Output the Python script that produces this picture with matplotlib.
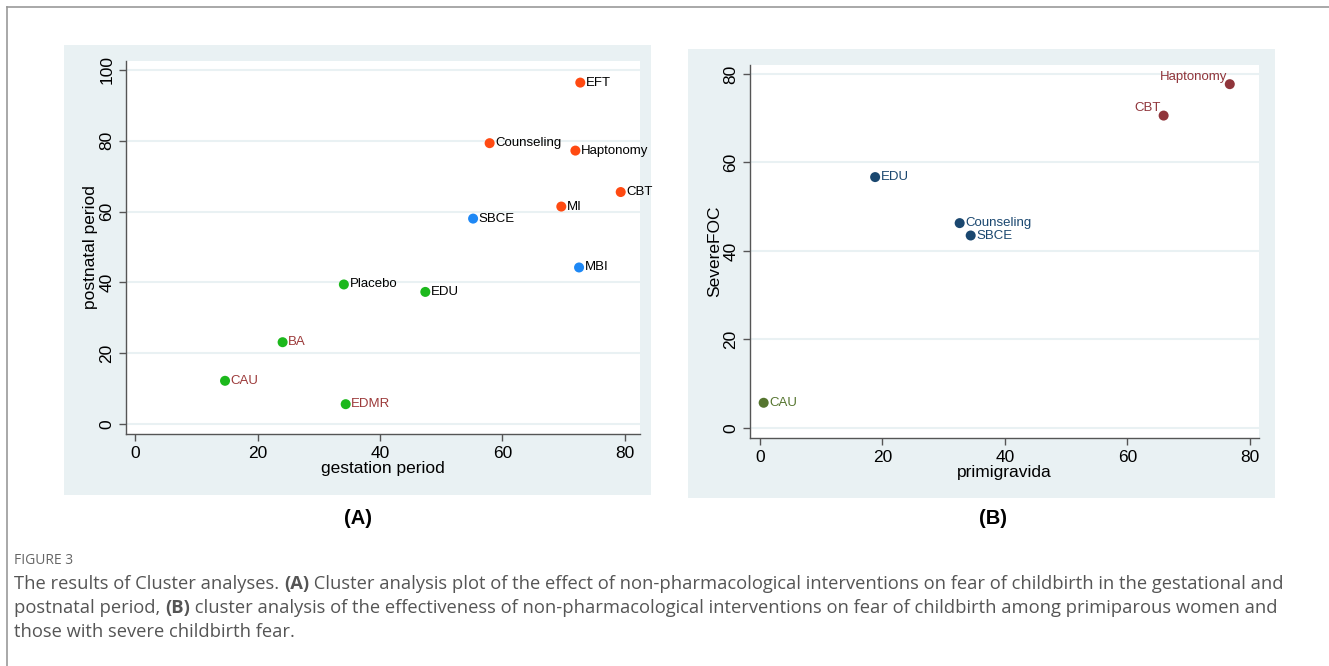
import matplotlib.pyplot as plt
from matplotlib.lines import Line2D
from matplotlib.patches import Rectangle

plt.rcParams["font.family"] = ["Liberation Sans", "DejaVu Sans"]

# (A) gestation vs postnatal period
a_names = ["EFT", "Counseling", "Haptonomy", "CBT", "MI", "SBCE", "MBI",
           "Placebo", "EDU", "BA", "CAU", "EDMR"]
a_gestation = [72.7, 57.9, 71.9, 79.3, 69.6, 55.2, 72.5, 34.1, 47.4, 24.1, 14.7, 34.4]
a_postnatal = [96.4, 79.3, 77.2, 65.5, 61.4, 58.0, 44.2, 39.4, 37.3, 23.1, 12.2, 5.6]
a_cluster = [1, 1, 1, 1, 1, 2, 2, 3, 3, 3, 3, 3]
a_maroon_labels = ["BA", "CAU", "EDMR"]

# (B) primigravida vs severe FOC
b_names = ["Haptonomy", "CBT", "EDU", "Counseling", "SBCE", "CAU"]
b_primigravida = [76.7, 65.9, 18.8, 32.6, 34.4, 0.6]
b_severe = [77.7, 70.6, 56.7, 46.3, 43.5, 5.7]
b_cluster = [1, 1, 2, 2, 2, 3]

a_colors = {1: "#ff4a12", 2: "#1e88f5", 3: "#1cb81c"}
b_colors = {1: "#90353b", 2: "#1a476f", 3: "#55752f"}
maroon = "#9c3a3a"
region_bg = "#e9f1f3"

W, H = 1329, 666
fig = plt.figure(figsize=(W / 100, H / 100), dpi=100)
fig.patch.set_facecolor("white")


def px_rect(left, top, right, bottom):
    return [left / W, 1 - bottom / H, (right - left) / W, (bottom - top) / H]


# page frame
fig.add_artist(Line2D([7 / W, 1], [1 - 7 / H, 1 - 7 / H], color="#999999", lw=1.2))
fig.add_artist(Line2D([7 / W, 7 / W], [0, 1 - 7 / H], color="#999999", lw=1.2))

# graph region backgrounds
for l, t, r, b in [(64, 45, 651, 495), (688, 49, 1275, 498)]:
    x0, y0, w, h = px_rect(l, t, r, b)
    fig.add_artist(Rectangle((x0, y0), w, h, transform=fig.transFigure,
                             facecolor=region_bg, edgecolor="none", zorder=0))


def style_axes(ax, xlabel, ylabel):
    ax.set_facecolor("white")
    for s in ["top", "right"]:
        ax.spines[s].set_visible(False)
    for s in ["left", "bottom"]:
        ax.spines[s].set_color("#555555")
        ax.spines[s].set_linewidth(1.0)
    ax.tick_params(axis="both", colors="#555555", length=5, width=1,
                   labelsize=12.5, labelcolor="black")
    for lab in ax.get_yticklabels():
        lab.set_rotation(90)
        lab.set_va("center")
    ax.yaxis.grid(True, color=region_bg, lw=1.5)
    ax.set_axisbelow(True)
    ax.set_xlabel(xlabel, fontsize=12.5, labelpad=0)
    ax.set_ylabel(ylabel, fontsize=12.5, labelpad=1)


# panel A
ax1 = fig.add_axes(px_rect(126, 61, 640, 434))
ax1.set_xlim(-1.47, 82.45)
ax1.set_ylim(-2.82, 102.5)
ax1.set_xticks([0, 20, 40, 60, 80])
ax1.set_yticks([0, 20, 40, 60, 80, 100])
ax1.scatter(a_gestation, a_postnatal, s=52, c=[a_colors[k] for k in a_cluster],
            edgecolors="none", zorder=3)
for name, x, y in zip(a_names, a_gestation, a_postnatal):
    col = maroon if name in a_maroon_labels else "black"
    ax1.annotate(name, (x, y), xytext=(4, 0), textcoords="offset points",
                 ha="left", va="center", fontsize=9.5, color=col)
style_axes(ax1, "gestation period", "postnatal period")

# panel B
ax2 = fig.add_axes(px_rect(750, 65, 1259, 438))
ax2.set_xlim(-1.63, 81.47)
ax2.set_ylim(-2.26, 82.03)
ax2.set_xticks([0, 20, 40, 60, 80])
ax2.set_yticks([0, 20, 40, 60, 80])
ax2.scatter(b_primigravida, b_severe, s=52, c=[b_colors[k] for k in b_cluster],
            edgecolors="none", zorder=3)
for name, x, y, k in zip(b_names, b_primigravida, b_severe, b_cluster):
    if k == 1:
        ax2.annotate(name, (x, y), xytext=(-2, 1), textcoords="offset points",
                     ha="right", va="bottom", fontsize=9.5, color=b_colors[k])
    else:
        ax2.annotate(name, (x, y), xytext=(4, 0), textcoords="offset points",
                     ha="left", va="center", fontsize=9.5, color=b_colors[k])
style_axes(ax2, "primigravida", "SevereFOC")

# panel tags
fig.text(358 / W, 1 - 518 / H, "(A)", ha="center", va="center",
         fontsize=14.5, fontweight="bold")
fig.text(993 / W, 1 - 518 / H, "(B)", ha="center", va="center",
         fontsize=14.5, fontweight="bold")

# caption
cap_font = ["Open Sans", "DejaVu Sans"]
fig.text(14 / W, 1 - 561 / H, "FIGURE 3", ha="left", va="center",
         fontsize=10, color="#666666", family=cap_font)
caption = [
    [("The results of Cluster analyses. ", "normal"), ("(A)", "bold"),
     (" Cluster analysis plot of the effect of non-pharmacological interventions on fear of childbirth in the gestational and", "normal")],
    [("postnatal period, ", "normal"), ("(B)", "bold"),
     (" cluster analysis of the effectiveness of non-pharmacological interventions on fear of childbirth among primiparous women and", "normal")],
    [("those with severe childbirth fear.", "normal")],
]
renderer = fig.canvas.get_renderer()
for i, line in enumerate(caption):
    x = 14 / W
    y = 1 - (584 + 24 * i) / H
    for chunk, weight in line:
        t = fig.text(x, y, chunk, ha="left", va="center", fontsize=13.2,
                     color="#555555", fontweight=weight, family=cap_font)
        bb = t.get_window_extent(renderer=renderer)
        x += bb.width / W

fig.savefig("out.png", dpi=100)
